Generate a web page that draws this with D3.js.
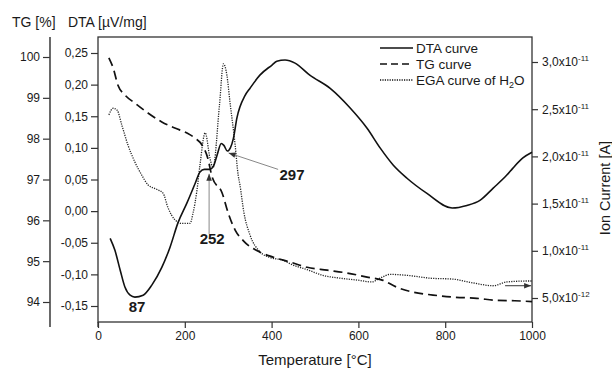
<!DOCTYPE html>
<html>
<head>
<meta charset="utf-8">
<script src="https://cdn.jsdelivr.net/npm/d3@7"></script>
<style>
  body { margin: 0; background: #fff; }
  text { font-family: Arial, "Liberation Sans", sans-serif; fill: #1a1a1a; }
</style>
</head>
<body>
<svg id="chart" width="612" height="370"></svg>
<script>
// DTA curve (µV/mg) vs temperature
const dtaTemp = [28, 39, 51, 62, 74, 85, 104, 124, 147, 166, 184, 205, 224, 235, 245, 258, 266, 275, 284, 290, 298, 305, 312, 320, 339, 350, 373, 401, 412, 431, 454, 488, 535, 581, 620, 650, 680, 712, 758, 816, 850, 880, 910, 942, 956, 979, 1000];
const dtaValue = [-0.043, -0.062, -0.093, -0.120, -0.133, -0.136, -0.133, -0.117, -0.089, -0.057, -0.019, 0.013, 0.044, 0.062, 0.066, 0.066, 0.071, 0.090, 0.107, 0.104, 0.095, 0.100, 0.115, 0.147, 0.183, 0.194, 0.215, 0.231, 0.237, 0.239, 0.234, 0.215, 0.194, 0.163, 0.131, 0.100, 0.073, 0.052, 0.028, 0.005, 0.009, 0.017, 0.036, 0.057, 0.068, 0.084, 0.093];

// TG curve (%) vs temperature
const tgTemp = [25, 35, 46, 62, 85, 115, 147, 177, 205, 224, 240, 253, 263, 286, 300, 316, 334, 373, 403, 442, 482, 528, 574, 620, 657, 689, 726, 772, 818, 873, 919, 960, 1000];
const tgValue = [99.98, 99.73, 99.31, 99.07, 98.87, 98.63, 98.41, 98.26, 98.14, 98.01, 97.84, 97.52, 97.06, 96.67, 96.18, 95.76, 95.51, 95.22, 95.10, 94.98, 94.85, 94.78, 94.71, 94.61, 94.53, 94.36, 94.24, 94.17, 94.12, 94.09, 94.04, 94.03, 94.01];

// EGA curve of H2O, ion current in pA (x1e-12 A)
const egaTemp = [25, 35, 44, 55, 69, 85, 101, 115, 136, 150, 161, 177, 194, 212, 219, 228, 235, 247, 258, 265, 280, 289, 297, 304, 316, 323, 327, 336, 350, 373, 396, 426, 449, 482, 518, 558, 597, 631, 650, 673, 712, 765, 818, 864, 910, 942, 988, 1000];
const egaValue = [24.4, 25.1, 24.9, 23.3, 21.2, 19.4, 18.0, 17.0, 16.5, 16.1, 14.6, 13.3, 12.9, 12.9, 14.0, 16.4, 19.1, 22.5, 19.8, 18.8, 25.5, 29.8, 28.6, 25.8, 21.2, 18.0, 17.0, 14.1, 11.7, 9.9, 9.3, 9.0, 8.5, 8.0, 7.4, 7.1, 6.9, 6.7, 7.1, 7.5, 7.4, 7.1, 7.0, 6.6, 6.3, 6.7, 6.8, 6.8];

const tempTicks = [0, 200, 400, 600, 800, 1000];
const dtaTicks = [-0.15, -0.10, -0.05, 0, 0.05, 0.10, 0.15, 0.20, 0.25];
const tgTicks = [94, 95, 96, 97, 98, 99, 100];
const ionTicks = [5, 10, 15, 20, 25, 30]; // pA

const legendLabels = ["DTA curve", "TG curve", "EGA curve of H"];
const legendDash = [null, "7,4", "1.2,1.2"];

// peak annotations on the DTA curve (temperature, DTA value)
const peakLabels = ["87", "252", "297"];
const peakText = [[90, -0.160], [263, -0.052], [447, 0.050]];
const peakArrowFrom = [null, [256, -0.036], [415, 0.066]];
const peakArrowTo = [null, [256, 0.059], [301, 0.092]];

const svg = d3.select("#chart");
svg.append("rect").attr("width", 612).attr("height", 370).attr("fill", "#fff");

const x = d3.scaleLinear().domain([0, 1000]).range([98, 532]);
const yDTA = d3.scaleLinear().domain([-0.15, 0.25]).range([306, 53]);
const yTG = d3.scaleLinear().domain([94, 100]).range([302, 57]);
const yIon = d3.scaleLinear().domain([5, 30]).range([298, 62]);
const plotTop = 37, plotBottom = 322;

const loc = d3.formatLocale({ decimal: ",", thousands: ".", grouping: [3], currency: ["", ""], minus: "-" });
const fmt2 = loc.format(".2f");

const defs = svg.append("defs");
defs.append("marker").attr("id", "arr")
  .attr("viewBox", "0 0 10 10").attr("refX", 10).attr("refY", 5)
  .attr("markerUnits", "userSpaceOnUse").attr("markerWidth", 9).attr("markerHeight", 7)
  .attr("orient", "auto")
  .append("path").attr("d", "M0,1 L10,5 L0,9 Z").attr("fill", "#333");

function styleAxis(g) {
  g.select(".domain").remove();
  g.selectAll(".tick line").attr("stroke", "#333").attr("stroke-width", 1.2);
  g.selectAll(".tick text").style("font-size", "12px").attr("fill", "#1a1a1a");
}

// bottom axis
const gx = svg.append("g").attr("transform", `translate(0,${plotBottom})`)
  .call(d3.axisBottom(x).tickValues(tempTicks).tickSize(6).tickPadding(3).tickFormat(d3.format("d")));
styleAxis(gx);

// DTA axis
const gd = svg.append("g").attr("transform", "translate(98,0)")
  .call(d3.axisLeft(yDTA).tickValues(dtaTicks).tickSize(7).tickPadding(3).tickFormat(fmt2));
styleAxis(gd);

// TG axis
const gt = svg.append("g").attr("transform", "translate(50,0)")
  .call(d3.axisLeft(yTG).tickValues(tgTicks).tickSize(7).tickPadding(3).tickFormat(d3.format("d")));
styleAxis(gt);
svg.append("line").attr("x1", 50).attr("x2", 50).attr("y1", plotTop).attr("y2", plotBottom + 5)
  .attr("stroke", "#444").attr("stroke-width", 1.6);

// ion current axis
const gi = svg.append("g").attr("transform", "translate(532,0)")
  .call(d3.axisRight(yIon).tickValues(ionTicks).tickSize(6).tickPadding(4));
styleAxis(gi);
gi.selectAll(".tick text").each(function (d) {
  const exp = Math.floor(Math.log10(d) + 1e-9) - 12;
  const mant = (d * Math.pow(10, -12 - exp)).toFixed(1).replace(".", ",");
  const t = d3.select(this).text(null);
  t.append("tspan").text(mant + "x10");
  t.append("tspan").attr("dy", -5).style("font-size", "8px").text(exp);
});

// frame
svg.append("rect").attr("x", 98).attr("y", plotTop).attr("width", 434).attr("height", plotBottom - plotTop)
  .attr("fill", "none").attr("stroke", "#333").attr("stroke-width", 1.3);
svg.append("line").attr("x1", 98).attr("x2", 98).attr("y1", plotBottom).attr("y2", plotBottom + 5)
  .attr("stroke", "#333").attr("stroke-width", 1.3);

// curves
const lineGen = d3.line().curve(d3.curveMonotoneX);
svg.append("path")
  .attr("d", lineGen(egaTemp.map((t, i) => [x(t), yIon(egaValue[i])])))
  .attr("fill", "none").attr("stroke", "#222").attr("stroke-width", 1.3).attr("stroke-dasharray", legendDash[2]);
svg.append("path")
  .attr("d", lineGen(tgTemp.map((t, i) => [x(t), yTG(tgValue[i])])))
  .attr("fill", "none").attr("stroke", "#111").attr("stroke-width", 1.7).attr("stroke-dasharray", "9,5");
svg.append("path")
  .attr("d", lineGen(dtaTemp.map((t, i) => [x(t), yDTA(dtaValue[i])])))
  .attr("fill", "none").attr("stroke", "#111").attr("stroke-width", 1.6);

// arrow at end of EGA curve, pointing to the ion current axis
svg.append("line")
  .attr("x1", x(938)).attr("x2", x(998)).attr("y1", yIon(6.3)).attr("y2", yIon(6.3))
  .attr("stroke", "#333").attr("stroke-width", 1).attr("marker-end", "url(#arr)");

// peak annotations
peakLabels.forEach((lab, i) => {
  if (peakArrowFrom[i]) {
    svg.append("line")
      .attr("x1", x(peakArrowFrom[i][0])).attr("y1", yDTA(peakArrowFrom[i][1]))
      .attr("x2", x(peakArrowTo[i][0])).attr("y2", yDTA(peakArrowTo[i][1]))
      .attr("stroke", "#888").attr("stroke-width", 1).attr("marker-end", "url(#arr)");
  }
  svg.append("text")
    .attr("x", x(peakText[i][0])).attr("y", yDTA(peakText[i][1]))
    .attr("text-anchor", "middle").style("font-size", "15px").style("font-weight", "bold")
    .text(lab);
});

// legend
const leg = svg.append("g");
legendLabels.forEach((lab, i) => {
  const ly = 48 + i * 16;
  leg.append("line").attr("x1", 380).attr("x2", 413).attr("y1", ly).attr("y2", ly)
    .attr("stroke", "#111").attr("stroke-width", i === 2 ? 1.3 : 1.6)
    .attr("stroke-dasharray", legendDash[i]);
  const t = leg.append("text").attr("x", 416).attr("y", ly + 5).style("font-size", "13.5px").text(lab);
  if (i === 2) {
    t.append("tspan").attr("dy", 3).style("font-size", "9px").text("2");
    t.append("tspan").attr("dy", -3).text("O");
  }
});

// axis titles
svg.append("text").attr("x", 12).attr("y", 27).style("font-size", "14px").text("TG [%]");
svg.append("text").attr("x", 68).attr("y", 27).style("font-size", "14px").text("DTA [µV/mg]");
svg.append("text").attr("x", 315).attr("y", 365).attr("text-anchor", "middle")
  .style("font-size", "15px").text("Temperature [°C]");
svg.append("text").attr("transform", "translate(610,188) rotate(-90)").attr("text-anchor", "middle")
  .style("font-size", "14.5px").text("Ion Current [A]");
</script>
</body>
</html>
